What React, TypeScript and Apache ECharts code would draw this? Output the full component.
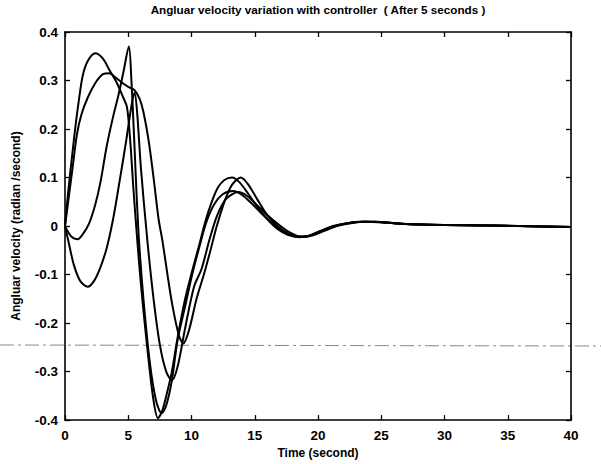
import React, { useEffect, useRef } from "react";
import * as echarts from "echarts";

const xTicks = [0, 5, 10, 15, 20, 25, 30, 35, 40];
const yTicks = [-0.4, -0.3, -0.2, -0.1, 0, 0.1, 0.2, 0.3, 0.4];

const curveA: [number, number][] = [
  [0, 0], [0.25, 0.07], [0.5, 0.13], [0.8, 0.2], [1.1, 0.26], [1.4, 0.31], [1.8, 0.34],
  [2.4, 0.356], [3.0, 0.345], [3.5, 0.322], [4.1, 0.295], [4.6, 0.265], [4.9, 0.245],
  [5.15, 0.178], [5.4, 0.08], [5.7, -0.025], [6.0, -0.12], [6.5, -0.25], [7.0, -0.36],
  [7.35, -0.396], [7.7, -0.38], [8.1, -0.34], [8.45, -0.3], [8.9, -0.23], [9.5, -0.15],
  [10.1, -0.088], [10.6, -0.04], [11.1, 0.01], [11.6, 0.05], [12.1, 0.08], [12.6, 0.095],
  [13.2, 0.1], [13.8, 0.09], [14.5, 0.066], [15.2, 0.04], [16.0, 0.014], [16.8, -0.006],
  [17.6, -0.018], [18.5, -0.023], [19.3, -0.02], [20.2, -0.01], [21.2, -0.001],
  [22.3, 0.006], [23.5, 0.009], [24.5, 0.009], [26, 0.006], [28, 0.003], [30, 0.002],
  [33, 0.001], [36, 0], [40, -0.002],
];

const curveB: [number, number][] = [
  [0, 0], [0.3, 0.06], [0.6, 0.12], [0.95, 0.19], [1.3, 0.23], [1.8, 0.265], [2.4, 0.295],
  [3.0, 0.313], [3.5, 0.315], [4.0, 0.306], [4.5, 0.296], [5.0, 0.287], [5.5, 0.28],
  [5.9, 0.262], [6.2, 0.235], [6.6, 0.178], [7.0, 0.1], [7.4, 0.014], [7.7, -0.03],
  [8.1, -0.1], [8.5, -0.165], [9.0, -0.225], [9.35, -0.242], [9.8, -0.215], [10.4, -0.15],
  [11.0, -0.098], [11.5, -0.05], [12.0, 0.0], [12.6, 0.05], [13.2, 0.085], [13.9, 0.1],
  [14.5, 0.085], [15.2, 0.055], [16.0, 0.022], [16.8, 0.0], [17.6, -0.015], [18.5, -0.022],
  [19.3, -0.02], [20.2, -0.01], [21.2, 0.0], [22.3, 0.006], [23.5, 0.009], [24.5, 0.009],
  [26, 0.006], [28, 0.003], [30, 0.002], [33, 0.001], [36, 0], [40, -0.002],
];

const curveC: [number, number][] = [
  [0, 0], [0.3, -0.015], [0.6, -0.024], [1.0, -0.027], [1.4, -0.017], [1.9, 0.005],
  [2.4, 0.045], [2.8, 0.09], [3.3, 0.165], [3.8, 0.225], [4.2, 0.267], [4.6, 0.315],
  [5.05, 0.37], [5.25, 0.3], [5.45, 0.19], [5.65, 0.07], [5.85, -0.03], [6.2, -0.15],
  [6.7, -0.28], [7.2, -0.36], [7.65, -0.386], [8.0, -0.37], [8.45, -0.318], [8.9, -0.235],
  [9.5, -0.165], [10.1, -0.095], [10.6, -0.045], [11.2, 0.01], [11.8, 0.045],
  [12.5, 0.066], [13.3, 0.072], [14.0, 0.064], [14.7, 0.048], [15.5, 0.027],
  [16.3, 0.008], [17.2, -0.01], [18.2, -0.021], [19.1, -0.022], [20.0, -0.014],
  [21.0, -0.003], [22.2, 0.005], [23.6, 0.009], [25, 0.008], [27, 0.004], [30, 0.002],
  [34, 0.001], [40, -0.002],
];

const curveD: [number, number][] = [
  [0, 0], [0.3, -0.035], [0.7, -0.08], [1.2, -0.113], [1.8, -0.125], [2.3, -0.113],
  [2.8, -0.085], [3.3, -0.045], [3.8, 0.014], [4.3, 0.09], [4.8, 0.17], [5.3, 0.255],
  [5.5, 0.275], [5.7, 0.235], [6.0, 0.12], [6.5, -0.027], [7.0, -0.15], [7.5, -0.245],
  [8.0, -0.3], [8.45, -0.318], [8.9, -0.29], [9.5, -0.21], [10.2, -0.125], [10.8, -0.088],
  [11.4, -0.03], [12.0, 0.02], [12.7, 0.055], [13.7, 0.07], [14.4, 0.062], [15.1, 0.045],
  [15.9, 0.025], [16.8, 0.005], [17.7, -0.012], [18.7, -0.022], [19.6, -0.019],
  [20.5, -0.01], [21.5, 0.0], [22.6, 0.006], [23.8, 0.009], [25, 0.008], [27, 0.004],
  [30, 0.002], [34, 0.001], [40, -0.002],
];

const curves = [curveA, curveB, curveC, curveD];

const titleText = "Angluar velocity variation with controller  ( After 5 seconds )";
const xName = "Time (second)";
const yName = "Angluar velocity (radian /second)";

export default function App() {
  const ref = useRef<HTMLDivElement>(null);
  useEffect(() => {
    if (!ref.current) return;
    const chart = echarts.init(ref.current, undefined, { renderer: "svg" });
    const font = "Liberation Sans";
    const tickLabel = { color: "#000", fontFamily: font, fontWeight: "bold" as const, fontSize: 13.5 };
    const axisCommon = {
      axisLine: { show: true, onZero: false, lineStyle: { color: "#000", width: 1.6 } },
      axisTick: { show: true, inside: true, length: 5, lineStyle: { color: "#000", width: 1.3 } },
      splitLine: { show: false },
    };
    chart.setOption({
      animation: false,
      backgroundColor: "#fff",
      title: {
        text: titleText,
        left: 318,
        textAlign: "center",
        top: 3,
        padding: 0,
        textStyle: { fontFamily: font, fontSize: 11.7, fontWeight: "bold", color: "#000" },
      },
      grid: { left: 65, right: 30, top: 32, bottom: 42 },
      xAxis: [
        {
          type: "value",
          min: 0,
          max: 40,
          interval: 5,
          name: xName,
          nameLocation: "middle",
          nameGap: 24,
          nameTextStyle: { fontFamily: font, fontSize: 12, fontWeight: "bold", color: "#000" },
          axisLabel: { ...tickLabel, margin: 8, formatter: (v: number) => (xTicks.includes(v) ? String(v) : "") },
          ...axisCommon,
        },
        {
          type: "value",
          position: "top",
          min: 0,
          max: 40,
          interval: 5,
          axisLabel: { show: false },
          ...axisCommon,
        },
      ],
      yAxis: [
        {
          type: "value",
          min: -0.4,
          max: 0.4,
          interval: 0.1,
          name: yName,
          nameLocation: "middle",
          nameGap: 43,
          nameTextStyle: { fontFamily: font, fontSize: 12, fontWeight: "bold", color: "#000" },
          axisLabel: {
            ...tickLabel,
            margin: 7,
            formatter: (v: number) => {
              const r = Math.round(v * 10) / 10;
              const hit = yTicks.find((t) => Math.abs(t - r) < 1e-9);
              return hit === undefined ? "" : hit === 0 ? "0" : String(hit);
            },
          },
          ...axisCommon,
        },
        {
          type: "value",
          position: "right",
          min: -0.4,
          max: 0.4,
          interval: 0.1,
          axisLabel: { show: false },
          ...axisCommon,
        },
      ],
      graphic: [
        {
          type: "line",
          shape: { x1: 0, y1: 345, x2: 601, y2: 346 },
          style: { stroke: "#888", lineWidth: 1, lineDash: [14, 4, 3, 4] },
          z: 0,
        },
      ],
      series: curves.map((c) => ({
        type: "line",
        data: c,
        showSymbol: false,
        smooth: 0.3,
        lineStyle: { color: "#000", width: 2 },
        xAxisIndex: 0,
        yAxisIndex: 0,
        z: 3,
      })),
    });
    return () => chart.dispose();
  }, []);
  return <div ref={ref} style={{ position: "fixed", left: 0, top: 0, width: 601, height: 464 }} />;
}
